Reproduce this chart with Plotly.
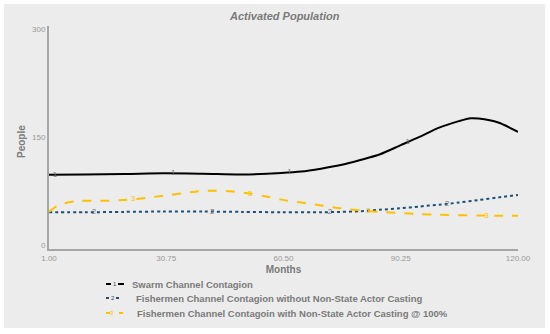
import numpy as np
import plotly.graph_objects as go

# ---- data ----
t1 = [1, 10, 20, 30, 40, 50, 60, 65, 70, 75, 80, 85, 90, 95, 100, 105, 108, 110, 115, 120]
swarm = [97.5, 98, 98.5, 99.5, 99, 98, 100, 102, 106, 111, 118, 126, 138, 150, 163, 172, 176, 175.5, 170, 157]

t2 = [1, 10, 20, 30, 40, 50, 60, 70, 75, 80, 85, 90, 95, 100, 105, 110, 115, 120]
fish_without = [45.5, 45.5, 46, 46.5, 46.5, 46, 45.5, 45.5, 46, 47, 49, 51, 53.5, 56, 59, 62.5, 66, 69.5]

t3 = [1, 3, 5, 8, 12, 16, 20, 25, 30, 35, 40, 43, 47, 52, 56, 60, 65, 70, 75, 80, 85, 90, 95, 100, 110, 120]
fish_with = [46, 54, 58, 61, 61.5, 61.5, 62.5, 65, 68.5, 72, 75, 75.5, 74.5, 71.5, 67.5, 63, 59, 55, 51, 48, 46, 44.5, 43, 42, 41, 40.5]

names = ["Swarm Channel Contagion",
         "Fishermen Channel Contagion without Non-State Actor Casting",
         "Fishermen Channel Contagoin with Non-State Actor Casting @ 100%"]
label_t = [[2.5, 32.5, 62, 92], [12.4, 42.4, 72.3, 102], [22.3, 52, 82, 112]]

x_ticks = [1.00, 30.75, 60.50, 90.25, 120.00]
x_tick_text = ["1.00", "30.75", "60.50", "90.25", "120.00"]
y_ticks = [0, 150, 300]
y_tick_text = ["0", "150", "300"]

colors = ["#000000", "#1f4e79", "#ffc000"]
dashes = ["solid", "dot", "dash"]
series = [(t1, swarm), (t2, fish_without), (t3, fish_with)]

fig = go.Figure()
for i, (tx, ty) in enumerate(series):
    fig.add_trace(go.Scatter(x=tx, y=ty, mode="lines", name=names[i],
                             line=dict(color=colors[i], width=2, dash=dashes[i], shape="spline", smoothing=0.8),
                             showlegend=False))
    lt = label_t[i]
    ly = np.interp(lt, tx, ty)
    fig.add_trace(go.Scatter(x=lt, y=ly, mode="text", text=[str(i + 1)] * len(lt),
                             textfont=dict(size=8, color="#777777" if i < 2 else "#ffc000", family="Liberation Sans"),
                             showlegend=False, hoverinfo="skip"))

L, R, T, B = 49, 32, 26, 85
W, H = 550, 334
pw, ph = W - L - R, H - T - B

def px(xp):
    return (xp - L) / pw

def py(yp):
    return (H - B - yp) / ph

shapes = [dict(type="rect", xref="paper", yref="paper", x0=px(4), x1=px(545), y0=py(328), y1=py(4),
               fillcolor="#ececec", line=dict(width=0), layer="below")]
annotations = [
    dict(text="<b><i>Activated Population</i></b>", xref="paper", yref="paper", x=px(284), y=py(16),
         xanchor="center", yanchor="middle",
         showarrow=False, font=dict(size=11, color="#7a7a7a", family="Liberation Sans")),
    dict(text="<b>People</b>", xref="paper", yref="paper", x=px(21), y=py(142), textangle=-90,
         xanchor="center", yanchor="middle",
         showarrow=False, font=dict(size=10, color="#7a7a7a", family="Liberation Sans")),
]

# custom legend
rows = [284, 298, 313]
num_x = [115, 113, 112]
text_x = [130, 134, 135]
seg = [((106, 111), (118, 124)), ((106, 110), (116, 122)), ((106, 110), (119, 123))]
for i in range(3):
    yy = py(rows[i])
    for (a, b) in seg[i]:
        shapes.append(dict(type="line", xref="paper", yref="paper", x0=px(a), x1=px(b), y0=yy, y1=yy,
                           line=dict(color=colors[i], width=2, dash="solid" if i != 1 else "dot")))
    annotations.append(dict(text=str(i + 1), xref="paper", yref="paper", x=px(num_x[i]), y=yy, showarrow=False,
                            xanchor="center", yanchor="middle",
                            font=dict(size=6, color="#444444" if i < 2 else "#ffc000", family="Liberation Sans")))
    annotations.append(dict(text="<b>" + names[i] + "</b>", xref="paper", yref="paper", x=px(text_x[i]), y=yy,
                            xanchor="left", yanchor="middle", showarrow=False,
                            font=dict(size=9.5, color="#7a7a7a", family="Liberation Sans")))

fig.update_layout(
    width=W, height=H,
    margin=dict(l=L, r=R, t=T, b=B, pad=0),
    paper_bgcolor="white", plot_bgcolor="rgba(0,0,0,0)",
    shapes=shapes, annotations=annotations,
    xaxis=dict(range=[1, 120], tickvals=x_ticks, ticktext=x_tick_text, showgrid=False, zeroline=False,
               showline=True, linecolor="#a6a6a6", linewidth=2, ticks="",
               tickfont=dict(size=8, color="#999999", family="Liberation Sans"),
               title=dict(text="<b>Months</b>", font=dict(size=10, color="#7a7a7a", family="Liberation Sans"), standoff=4)),
    yaxis=dict(range=[-5.5, 304], tickvals=y_ticks, ticktext=y_tick_text, showgrid=False, zeroline=False,
               showline=True, linecolor="#a6a6a6", linewidth=2, ticks="",
               tickfont=dict(size=8, color="#999999", family="Liberation Sans")),
)

fig.write_html("out.html", config={"displayModeBar": False},
               post_script="document.body.style.margin='0';")
